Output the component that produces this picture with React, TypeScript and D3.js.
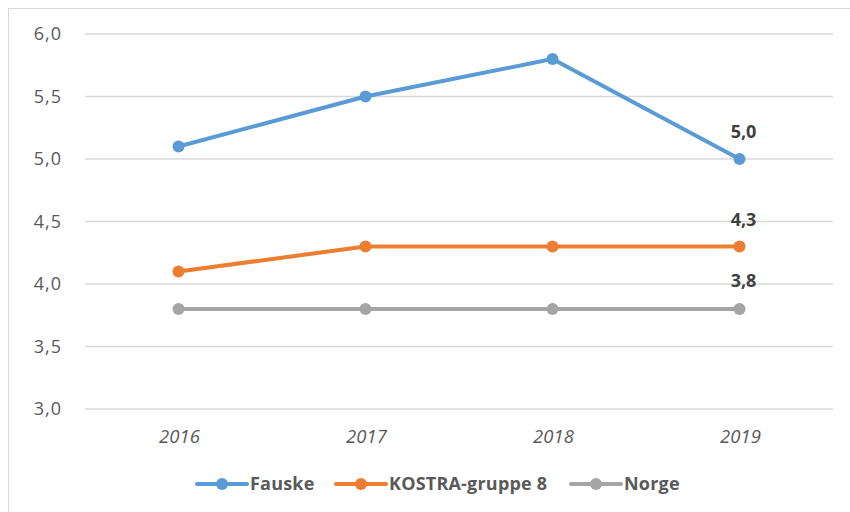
import React from "react";
import * as d3 from "d3";

const years = ["2016", "2017", "2018", "2019"];
const fauske = [5.1, 5.5, 5.8, 5.0];
const kostra = [4.1, 4.3, 4.3, 4.3];
const norge = [3.8, 3.8, 3.8, 3.8];
const yTicks = [3.0, 3.5, 4.0, 4.5, 5.0, 5.5, 6.0];
const seriesNames = ["Fauske", "KOSTRA-gruppe 8", "Norge"];
const colors = ["#5B9BD5", "#ED7D31", "#A5A5A5"];

const W = 850, H = 512;
const FONT = "'Open Sans', Lato, sans-serif";

export default function App() {
  const x = d3.scaleBand<string>().domain(years).range([85, 833]);
  const cx = (y: string) => (x(y) as number) + x.bandwidth() / 2;
  const y = d3.scaleLinear().domain([3, 6]).range([409, 34]);
  const fmt = (v: number) => v.toFixed(1).replace(".", ",");
  const line = d3
    .line<number>()
    .x((_, i) => cx(years[i]))
    .y((d) => y(d));
  const all = [fauske, kostra, norge];
  const legendX = [197, 336, 571];
  const labelDy = [-27, -27, -28];

  return (
    <svg
      width={W}
      height={H}
      style={{ position: "absolute", left: 0, top: 0, background: "#fff" }}
      fontFamily={FONT}
    >
      <rect x={8.5} y={8.5} width={W} height={H} fill="#fff" stroke="#D9D9D9" />
      {yTicks.map((t) => (
        <g key={t}>
          <line x1={85} x2={833} y1={y(t)} y2={y(t)} stroke="#D9D9D9" strokeWidth={1.3} />
          <text x={62} y={y(t)} dy="0.35em" textAnchor="end" fontSize={18} letterSpacing={1} fill="#595959">
            {fmt(t)}
          </text>
        </g>
      ))}
      {years.map((yr) => (
        <text key={yr} x={cx(yr) + 1} y={437} dy="0.35em" textAnchor="middle" fontSize={18.5} fontStyle="italic" fill="#595959">
          {yr}
        </text>
      ))}
      {all.map((s, si) => (
        <g key={si}>
          <path d={line(s) as string} fill="none" stroke={colors[si]} strokeWidth={4} strokeLinejoin="round" />
          {s.map((v, i) => (
            <circle key={i} cx={cx(years[i])} cy={y(v)} r={6} fill={colors[si]} />
          ))}
          <text
            x={cx(years[3]) + 4}
            y={y(s[3]) + labelDy[si]}
            dy="0.35em"
            textAnchor="middle"
            fontSize={18}
            fontWeight="bold"
            fill="#404040"
          >
            {fmt(s[3])}
          </text>
        </g>
      ))}
      {seriesNames.map((n, si) => (
        <g key={n}>
          <line x1={legendX[si]} x2={legendX[si] + 50} y1={484} y2={484} stroke={colors[si]} strokeWidth={4} strokeLinecap="round" />
          <circle cx={legendX[si] + 25} cy={484} r={6} fill={colors[si]} />
          <text x={legendX[si] + 53} y={484} dy="0.35em" fontSize={18} letterSpacing={0.2} fontWeight="bold" fill="#595959">
            {n}
          </text>
        </g>
      ))}
    </svg>
  );
}
